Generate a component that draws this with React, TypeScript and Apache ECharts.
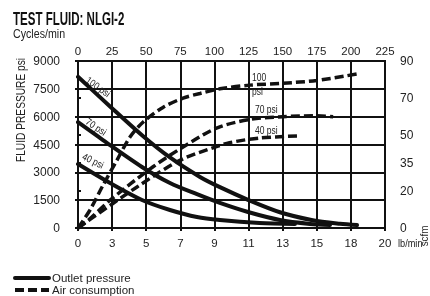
import React, { useEffect, useRef } from "react";
import * as echarts from "echarts";

const FONT = '"Liberation Sans", Arial, sans-serif';

// Bottom axis (lb/min) tick labels, one per vertical grid line
const lbMinLabels = ["0", "3", "5", "7", "9", "11", "13", "15", "18", "20"];
// Right axis (scfm) tick values
const scfmTicks = [0, 20, 35, 50, 70, 90];

// Outlet pressure (psi) vs. cycles/min position
const outlet100X = [0, 23.5, 46.9, 67.4, 89.4, 104, 124.6, 148, 172, 192, 204.5];
const outlet100Y = [8150, 6550, 5000, 3800, 2750, 2200, 1520, 850, 420, 230, 160];
const outlet70X = [0, 18.3, 46.9, 67.4, 87.2, 104, 124.6, 148, 170, 184.7];
const outlet70Y = [5700, 4740, 3290, 2425, 1820, 1350, 860, 430, 220, 160];
const outlet40X = [0, 23.5, 46.9, 67.4, 87.2, 104, 133, 159];
const outlet40Y = [3450, 2425, 1510, 970, 590, 430, 270, 215];

// Air consumption (scfm) vs. cycles/min
const air100X = [0, 8.8, 18.3, 28.6, 38.1, 47.6, 62.3, 77, 89.4, 104, 126, 150, 175, 204.5];
const air100Y = [0, 9.7, 23, 36.6, 49, 57, 65, 70, 72.5, 75, 77, 78, 79.5, 83];
const air70X = [0, 8, 23.5, 55, 80, 102, 126, 150, 175, 187];
const air70Y = [0, 4.5, 15, 33, 45, 54, 58.5, 60, 60.5, 60];
const air40X = [0, 43, 75, 102, 111, 133, 160.5];
const air40Y = [0, 22, 36.6, 44, 46, 48.5, 49.6];

const zip = (xs: number[], ys: number[]) => xs.map((x, i) => [x, ys[i]]);

export default function App() {
  const ref = useRef<HTMLDivElement>(null);
  useEffect(() => {
    if (!ref.current) return;
    const chart = echarts.init(ref.current, null, { renderer: "svg" });
    const solid = (name: string, data: number[][]) => ({
      type: "line",
      name,
      data,
      xAxisIndex: 0,
      yAxisIndex: 0,
      smooth: 0.3,
      symbol: "none",
      showSymbol: false,
      lineStyle: { color: "#111", width: 4, cap: "round" },
      itemStyle: { color: "#111" },
      z: 5,
    });
    const dashed = (name: string, data: number[][]) => ({
      type: "line",
      name,
      data,
      xAxisIndex: 0,
      yAxisIndex: 1,
      smooth: 0.3,
      symbol: "none",
      showSymbol: false,
      lineStyle: { color: "#111", width: 3.5, type: [9, 4] },
      itemStyle: { color: "#111" },
      z: 5,
    });
    const txt = (text: string, x: number, y: number, size: number, opts: any = {}) => ({
      type: "text",
      x,
      y,
      rotation: opts.rotation || 0,
      scaleX: opts.scaleX || 1,
      style: {
        text,
        fill: opts.fill || "#222",
        font: `${opts.weight || "normal"} ${size}px ${FONT}`,
        align: opts.align || "left",
        verticalAlign: "middle",
      },
      z: 10,
    });
    const axisFont = { fontFamily: FONT, color: "#222" };
    chart.setOption({
      animation: false,
      legend: {
        orient: "vertical",
        left: 13,
        top: 272,
        padding: 0,
        itemGap: 0,
        itemWidth: 34,
        itemHeight: 10,
        data: ["Outlet pressure", "Air consumption"],
        lineStyle: { width: 4 },
        itemStyle: { opacity: 0 },
        textStyle: { fontFamily: FONT, fontSize: 11.5, color: "#222", lineHeight: 10, padding: [0, 0, 0, -2] },
        selectedMode: false,
      },
      grid: {
        left: 78,
        right: 45,
        top: 61,
        bottom: 68,
        show: true,
        borderColor: "#111",
        borderWidth: 2,
      },
      xAxis: [
        {
          type: "value",
          position: "top",
          min: 0,
          max: 225,
          interval: 25,
          axisLine: { show: false },
          axisTick: { show: false },
          axisLabel: { ...axisFont, fontSize: 11.5, margin: 4 },
          splitLine: { show: true, lineStyle: { color: "#111", width: 2 } },
        },
        {
          type: "value",
          position: "bottom",
          offset: 27,
          min: 0,
          max: 225,
          interval: 25,
          axisLine: { show: true, lineStyle: { color: "#111", width: 2 } },
          axisTick: { show: true, length: 3, lineStyle: { color: "#111", width: 2 } },
          axisLabel: {
            ...axisFont,
            inside: true,
            margin: 6,
            fontSize: 11.5,
            formatter: (v: number) => lbMinLabels[Math.round(v / 25)] ?? "",
          },
          splitLine: { show: false },
        },
      ],
      yAxis: [
        {
          type: "value",
          position: "left",
          offset: 12,
          min: 0,
          max: 9000,
          interval: 1500,
          axisLine: { show: true, lineStyle: { color: "#111", width: 2 } },
          axisTick: { show: true, length: 3, lineStyle: { color: "#111", width: 2 } },
          axisLabel: { ...axisFont, fontSize: 12, margin: 6, formatter: (v: number) => String(v) },
          splitLine: { show: true, lineStyle: { color: "#111", width: 2 } },
        },
        {
          type: "value",
          position: "right",
          offset: 10,
          min: 0,
          max: 90,
          axisLine: { show: true, lineStyle: { color: "#111", width: 2 } },
          axisTick: { show: true, length: 3, customValues: scfmTicks, lineStyle: { color: "#111", width: 2 } },
          axisLabel: { ...axisFont, fontSize: 12, margin: 5, customValues: scfmTicks, formatter: (v: number) => String(v) },
          splitLine: { show: false },
        },
      ],
      series: [
        solid("Outlet pressure", zip(outlet100X, outlet100Y)),
        solid("Outlet pressure", zip(outlet70X, outlet70Y)),
        solid("Outlet pressure", zip(outlet40X, outlet40Y)),
        dashed("Air consumption", zip(air100X, air100Y)),
        dashed("Air consumption", zip(air70X, air70Y)),
        dashed("Air consumption", zip(air40X, air40Y)),
      ],
      graphic: [
        txt("TEST FLUID: NLGI-2", 13, 18, 18, { weight: "bold", scaleX: 0.64, fill: "#111" }),
        txt("Cycles/min", 13, 34, 13, { scaleX: 0.82 }),
        txt("FLUID PRESSURE psi", 21, 110, 12, { rotation: Math.PI / 2, align: "center", scaleX: 0.85 }),
        txt("lb/min", 398, 243, 11.5, { scaleX: 0.8 }),
        txt("scfm", 424, 236, 11.5, { rotation: Math.PI / 2, align: "center", scaleX: 0.85 }),
        txt("100 psi", 98, 87, 10, { rotation: -0.62, align: "center", scaleX: 0.85 }),
        txt("70 psi", 96, 127, 10, { rotation: -0.6, align: "center", scaleX: 0.85 }),
        txt("40 psi", 93, 161, 10, { rotation: -0.45, align: "center", scaleX: 0.85 }),
        txt("100", 252, 78, 10, { scaleX: 0.85 }),
        txt("psi", 252, 92, 10, { scaleX: 0.85 }),
        txt("70 psi", 255, 110, 10, { scaleX: 0.85 }),
        txt("40 psi", 255, 131, 10, { scaleX: 0.85 }),
      ],
    });
    return () => chart.dispose();
  }, []);
  return (
    <div
      ref={ref}
      style={{ position: "fixed", left: 0, top: 0, width: 430, height: 296 }}
    />
  );
}
